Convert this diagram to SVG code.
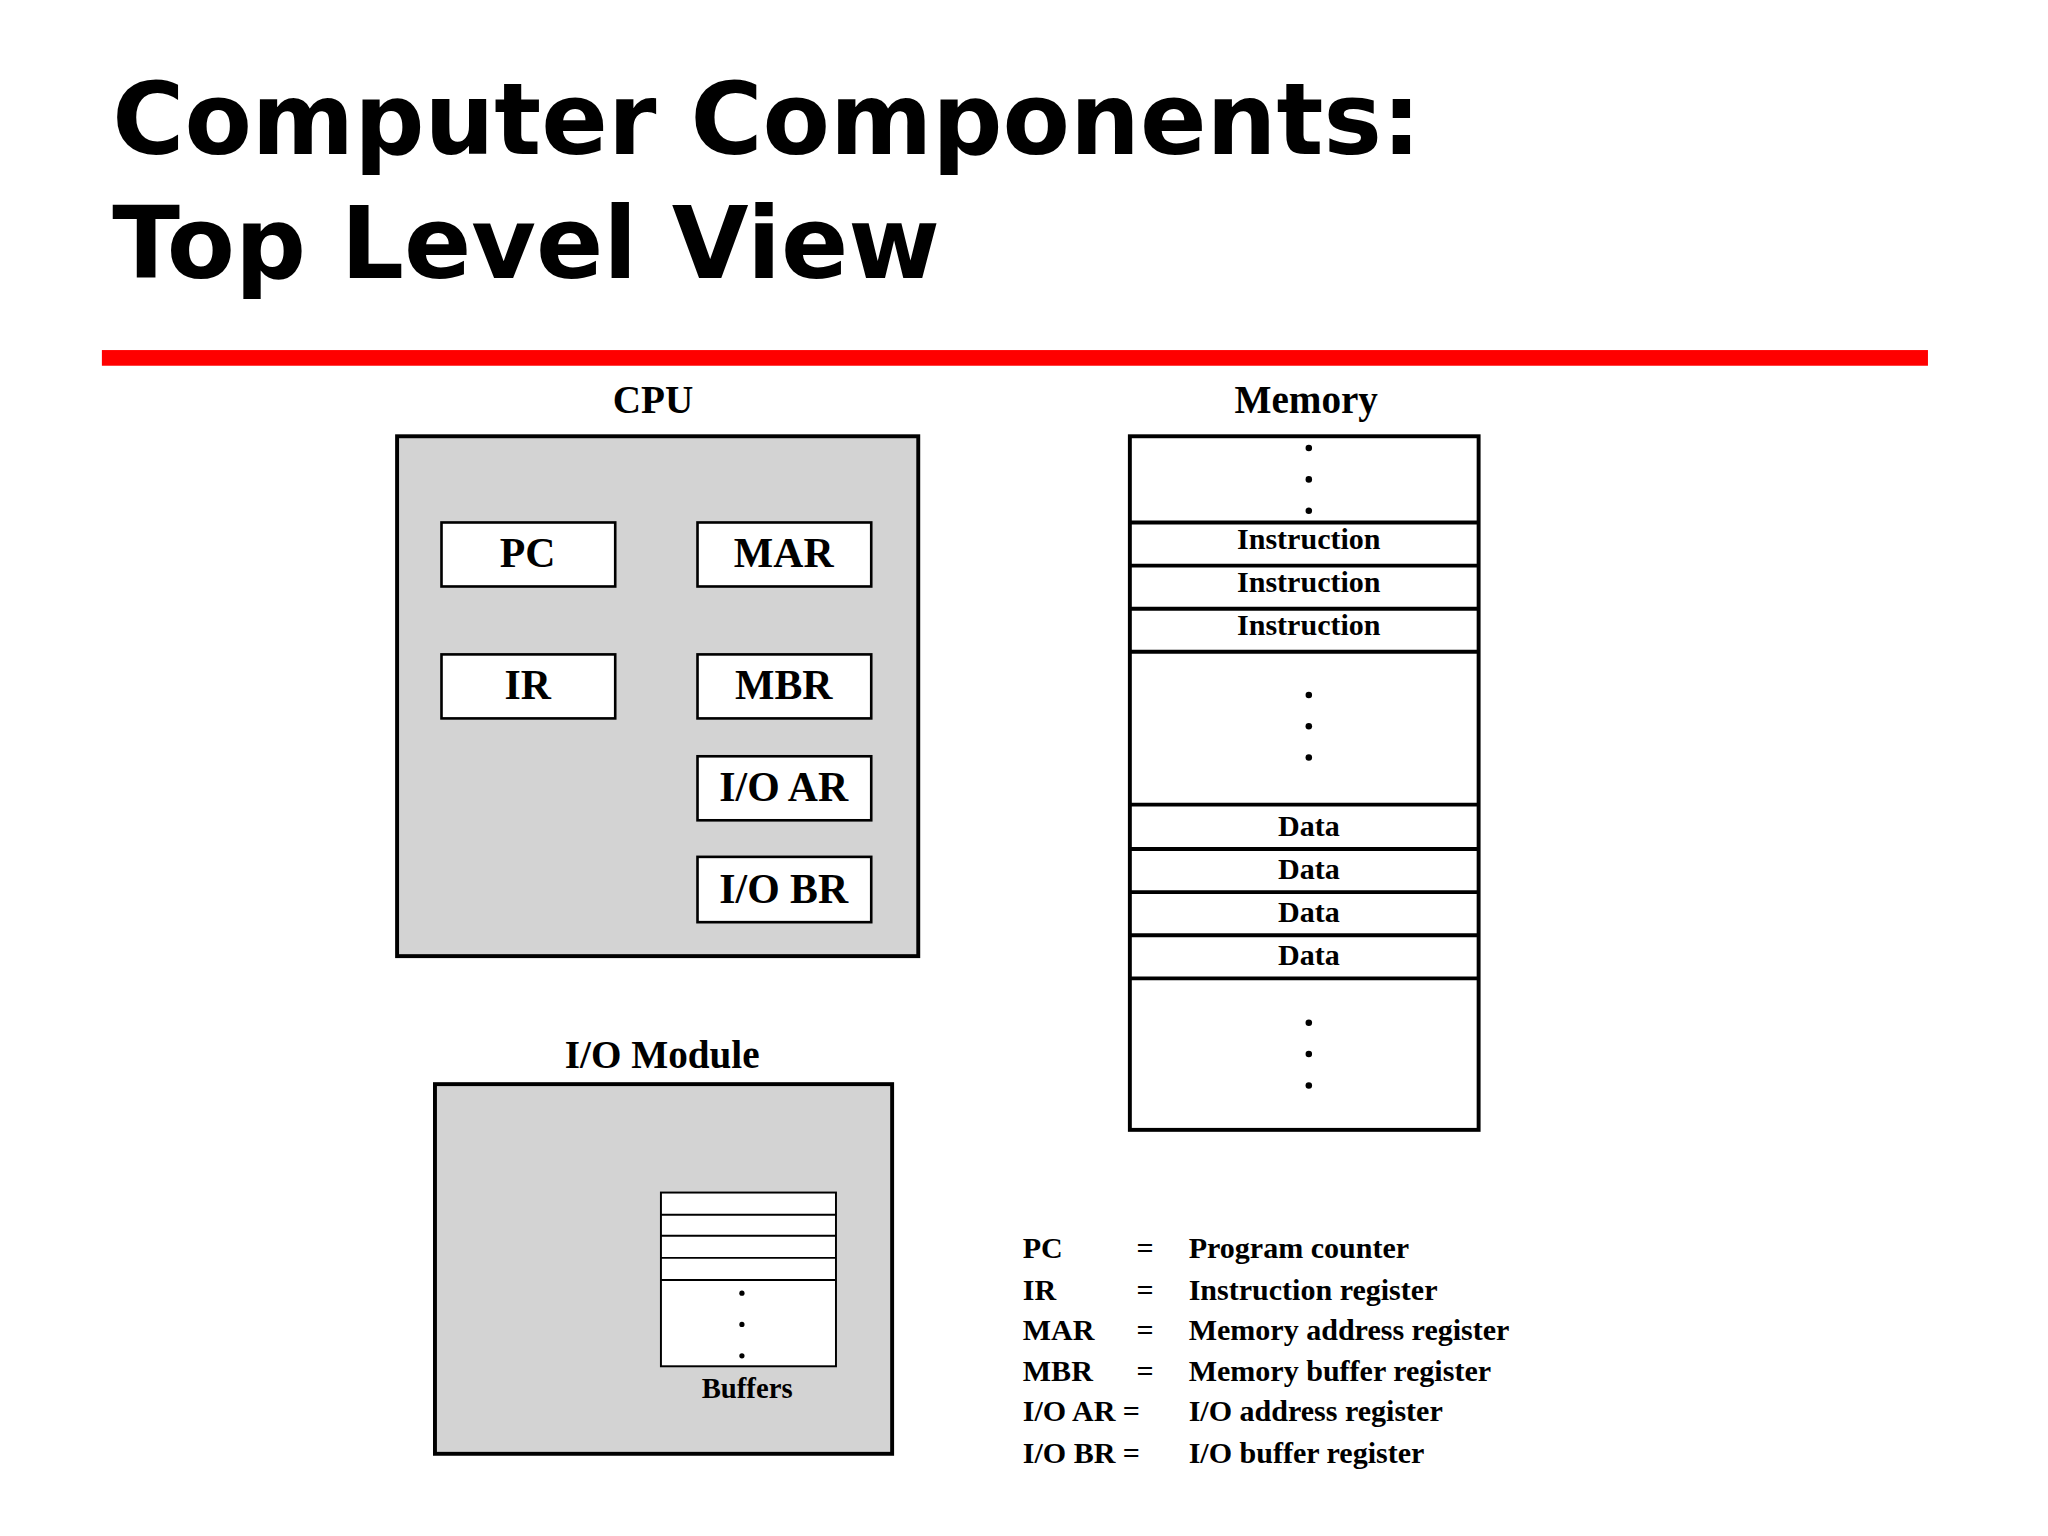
<svg xmlns="http://www.w3.org/2000/svg" width="2048" height="1536" viewBox="0 0 2048 1536">
<style>
.t{font-family:"DejaVu Sans","Liberation Sans",sans-serif;font-weight:900;font-size:76px}
.s{font-family:"Liberation Serif",serif;font-weight:bold;fill:#000}
.box{fill:#d3d3d3;stroke:#000;stroke-width:3}
.reg{fill:#fff;stroke:#000;stroke-width:2}
.ln{stroke:#000;stroke-width:3}
</style>
<rect width="2048" height="1536" fill="#fff"/>
<g transform="scale(1.3062)">
<g id="title"><text class="t" x="86" y="118" textLength="1002" lengthAdjust="spacingAndGlyphs">Computer Components:</text><text class="t" x="86" y="213">Top Level View</text></g>
<rect x="78" y="268" width="1398" height="12" fill="#f00"/>
<g id="cpu">
<text class="s" x="500" y="316" font-size="30" text-anchor="middle">CPU</text>
<rect class="box" x="304" y="334" width="399" height="398"/>
<g font-size="32" text-anchor="middle" class="s">
<rect class="reg" x="338" y="400" width="133" height="49"/><text class="s" x="404" y="434">PC</text>
<rect class="reg" x="534" y="400" width="133" height="49"/><text class="s" x="600" y="434">MAR</text>
<rect class="reg" x="338" y="501" width="133" height="49"/><text class="s" x="404" y="535">IR</text>
<rect class="reg" x="534" y="501" width="133" height="49"/><text class="s" x="600" y="535">MBR</text>
<rect class="reg" x="534" y="579" width="133" height="49"/><text class="s" x="600" y="613">I/O AR</text>
<rect class="reg" x="534" y="656" width="133" height="50"/><text class="s" x="600" y="691">I/O BR</text>
</g></g>
<g id="memory">
<text class="s" x="1000" y="316" font-size="30" text-anchor="middle">Memory</text>
<rect x="865" y="334" width="267" height="531" fill="#fff" stroke="#000" stroke-width="3"/>
<g class="ln"><line x1="865" y1="400" x2="1132" y2="400"/><line x1="865" y1="433" x2="1132" y2="433"/><line x1="865" y1="466" x2="1132" y2="466"/><line x1="865" y1="499" x2="1132" y2="499"/><line x1="865" y1="616" x2="1132" y2="616"/><line x1="865" y1="650" x2="1132" y2="650"/><line x1="865" y1="683" x2="1132" y2="683"/><line x1="865" y1="716" x2="1132" y2="716"/><line x1="865" y1="749" x2="1132" y2="749"/></g>
<g fill="#000"><circle cx="1002" cy="343" r="2.5"/><circle cx="1002" cy="367" r="2.5"/><circle cx="1002" cy="391" r="2.5"/><circle cx="1002" cy="532" r="2.5"/><circle cx="1002" cy="556" r="2.5"/><circle cx="1002" cy="580" r="2.5"/><circle cx="1002" cy="783" r="2.5"/><circle cx="1002" cy="807" r="2.5"/><circle cx="1002" cy="831" r="2.5"/></g>
<g class="s" font-size="23" text-anchor="middle"><text x="1002" y="420">Instruction</text><text x="1002" y="453">Instruction</text><text x="1002" y="486">Instruction</text><text x="1002" y="640">Data</text><text x="1002" y="673">Data</text><text x="1002" y="706">Data</text><text x="1002" y="739">Data</text></g>
</g>
<g id="io">
<text class="s" x="507" y="818" font-size="30" text-anchor="middle">I/O Module</text>
<rect class="box" x="333" y="830" width="350" height="283"/>
<rect x="506" y="913" width="134" height="133" fill="#fff" stroke="#000" stroke-width="1.5"/>
<g stroke="#000" stroke-width="1.5"><line x1="506" y1="930" x2="640" y2="930"/><line x1="506" y1="946" x2="640" y2="946"/><line x1="506" y1="963" x2="640" y2="963"/><line x1="506" y1="980" x2="640" y2="980"/></g>
<g fill="#000"><circle cx="568" cy="990" r="2"/><circle cx="568" cy="1014" r="2"/><circle cx="568" cy="1038" r="2"/></g>
<text class="s" x="572" y="1070" font-size="22" text-anchor="middle">Buffers</text>
</g>
<g id="legend" class="s" font-size="23" fill="#222">
<text x="783" y="963">PC</text><text x="870" y="963">=</text><text x="910" y="963">Program counter</text>
<text x="783" y="995">IR</text><text x="870" y="995">=</text><text x="910" y="995">Instruction register</text>
<text x="783" y="1026">MAR</text><text x="870" y="1026">=</text><text x="910" y="1026">Memory address register</text>
<text x="783" y="1057">MBR</text><text x="870" y="1057">=</text><text x="910" y="1057">Memory buffer register</text>
<text x="783" y="1088">I/O AR =</text><text x="910" y="1088">I/O address register</text>
<text x="783" y="1120">I/O BR =</text><text x="910" y="1120">I/O buffer register</text>
</g>
<g id="connectors"/>
</g>
</svg>
